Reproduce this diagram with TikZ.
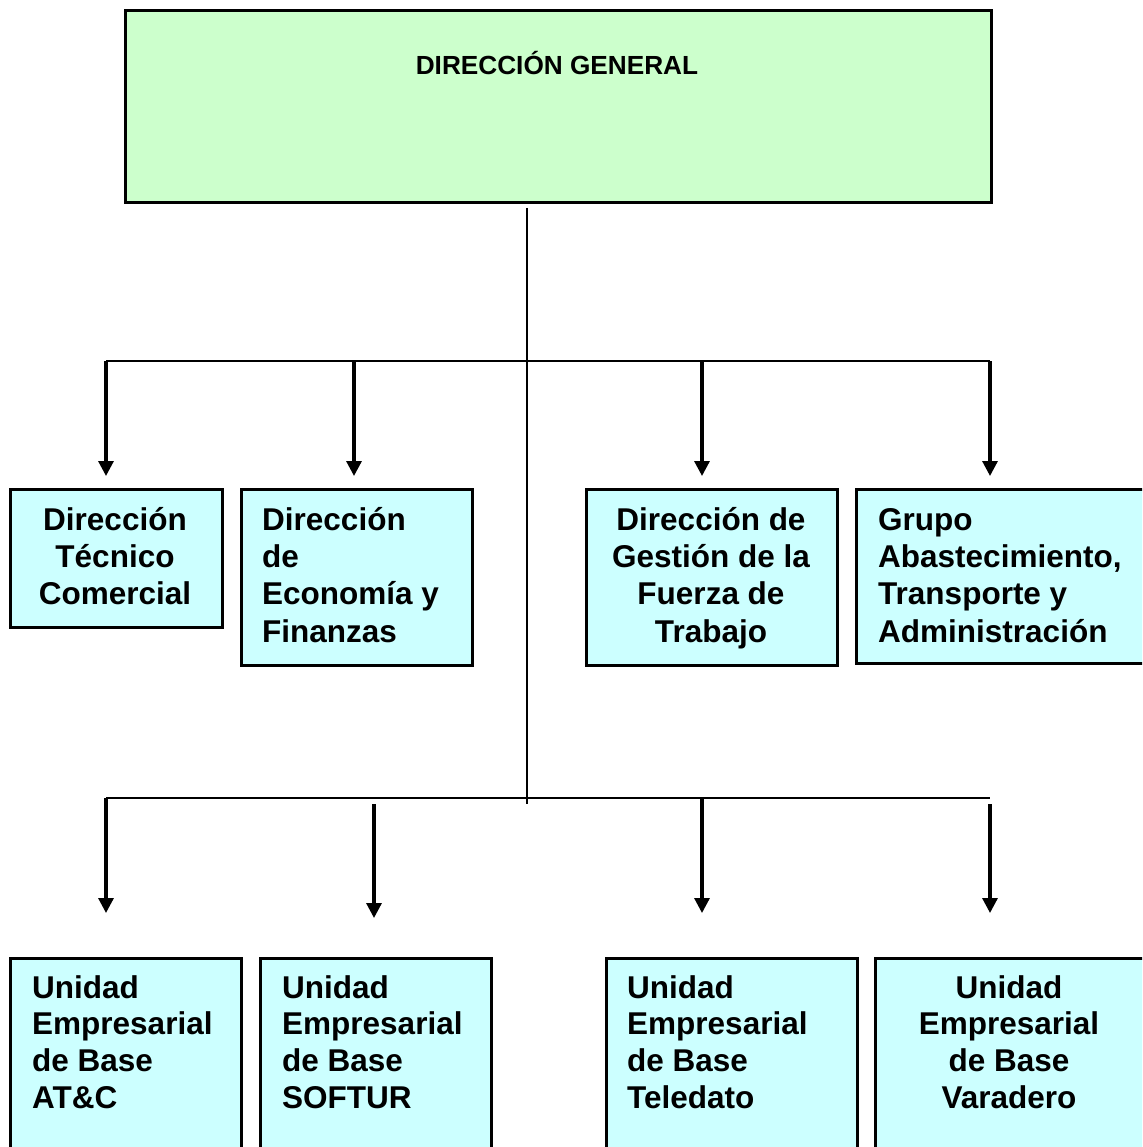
\documentclass[tikz,border=0pt]{standalone}
\usepackage{fontspec}
\setmainfont{Liberation Sans}
\usetikzlibrary{arrows.meta}

\definecolor{headgreen}{HTML}{CCFFCC}
\definecolor{unitblue}{HTML}{CCFFFF}

% first-line strut so every label can be placed by its first baseline
\newcommand{\firstline}{\rule{0pt}{30pt}}

\begin{document}
\begin{tikzpicture}[x=1pt,y=-1pt,
  unitbox/.style={draw=black, line width=2.5pt, fill=unitblue, inner sep=0pt,
    anchor=north west, minimum width=#1},
  unitbox/.default=200pt,
  boxtext/.style={font=\bfseries\fontsize{31.5}{37.3}\selectfont, inner sep=0pt},
  lowtext/.style={font=\bfseries\fontsize{31.5}{36.6}\selectfont, inner sep=0pt},
  link/.style={line width=2.8pt},
  trunkline/.style={line width=2.4pt},
  down/.style={line width=3.2pt, -{Triangle[length=15pt,width=15pt]}}
]
\useasboundingbox (0,0) rectangle (1142,1147);
\clip (0,0) rectangle (1142,1147);

% head office
\node[draw=black, line width=2.6pt, fill=headgreen, inner sep=0pt, anchor=north west,
      minimum width=866pt, minimum height=192pt] (dg) at (124,9) {};
\node[font=\bfseries\fontsize{26.2}{30}\selectfont, inner sep=0pt, anchor=base] (dgt) at (557,75) {DIRECCIÓN GENERAL};

% trunk and branch bars
\coordinate (t0) at (527,208);
\coordinate (t1) at (527,804);
\draw[trunkline] (t0) -- (t1);

\coordinate (h1l) at (106,361);
\coordinate (h1r) at (990,361);
\draw[link] (h1l) -- (h1r);

\coordinate (h2l) at (106,798);
\coordinate (h2r) at (990,798);
\draw[link] (h2l) -- (h2r);

% second level boxes
\node[unitbox=212pt, minimum height=138pt] (d1) at (9,488) {};
\node[unitbox=231pt, minimum height=176pt] (d2) at (240,488) {};
\node[unitbox=251pt, minimum height=176pt] (d3) at (585,488) {};
\node[unitbox=300pt, minimum height=174pt] (d4) at (855,488) {};

\node[boxtext, align=center, anchor=north] (d1t) at (115,500)
  {\firstline Dirección\\Técnico\\Comercial};
\node[boxtext, align=left, anchor=north west] (d2t) at (262,500)
  {\firstline Dirección\\de\\Economía y\\Finanzas};
\node[boxtext, align=center, anchor=north] (d3t) at (711,500)
  {\firstline Dirección de\\Gestión de la\\Fuerza de\\Trabajo};
\node[boxtext, align=left, anchor=north west] (d4t) at (878,500)
  {\firstline Grupo\\Abastecimiento,\\Transporte y\\Administración};

% arrows to second level
\coordinate (a1) at (106,476);
\coordinate (a2) at (354,476);
\coordinate (a3) at (702,476);
\coordinate (a4) at (990,476);
\draw[down] (a1 |- h1l) -- (a1);
\draw[down] (a2 |- h1l) -- (a2);
\draw[down] (a3 |- h1l) -- (a3);
\draw[down] (a4 |- h1l) -- (a4);

% business units
\node[unitbox=231pt, minimum height=220pt] (u1) at (9,957) {};
\node[unitbox=231pt, minimum height=220pt] (u2) at (259,957) {};
\node[unitbox=251pt, minimum height=220pt] (u3) at (605,957) {};
\node[unitbox=272pt, minimum height=220pt] (u4) at (874,957) {};

\node[lowtext, align=left, anchor=north west] (u1t) at (32,968)
  {\firstline Unidad\\Empresarial\\de Base\\AT\&C};
\node[lowtext, align=left, anchor=north west] (u2t) at (282,968)
  {\firstline Unidad\\Empresarial\\de Base\\SOFTUR};
\node[lowtext, align=left, anchor=north west] (u3t) at (627,968)
  {\firstline Unidad\\Empresarial\\de Base\\Teledato};
\node[lowtext, align=center, anchor=north] (u4t) at (1009,968)
  {\firstline Unidad\\Empresarial\\de Base\\Varadero};

% arrows to business units
\coordinate (b1) at (106,913);
\coordinate (b2) at (374,918);
\coordinate (b3) at (702,913);
\coordinate (b4) at (990,913);
\coordinate (s2) at (374,804);
\coordinate (s4) at (990,804);
\draw[down] (b1 |- h2l) -- (b1);
\draw[down] (s2) -- (b2);
\draw[down] (b3 |- h2l) -- (b3);
\draw[down] (s4) -- (b4);
\end{tikzpicture}
\end{document}
